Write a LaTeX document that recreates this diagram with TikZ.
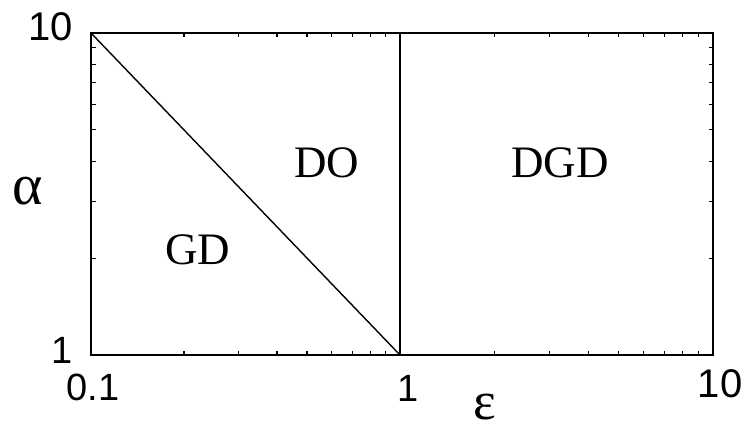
\documentclass[tikz,border=0pt]{standalone}
\usepackage{fontspec}
\setmainfont{Liberation Serif}
\newfontfamily\numfont{Liberation Sans}
\begin{document}
\begin{tikzpicture}[x=1pt,y=1pt,
  frame/.style={line width=2pt, line join=miter},
  divider/.style={line width=1.4pt},
  tickmark/.style={line width=1.1pt},
  ticklabel/.style={inner sep=0pt, font=\numfont\fontsize{38}{38}\selectfont},
  bigticklabel/.style={inner sep=0pt, font=\numfont\fontsize{40}{40}\selectfont},
  region/.style={inner sep=0pt, font=\fontsize{45}{45}\selectfont},
  axislabel/.style={inner sep=0pt, font=\fontsize{58}{58}\selectfont},
  epslabel/.style={inner sep=0pt, font=\fontsize{54}{54}\selectfont}]
\useasboundingbox (0,0) rectangle (747,432);
% plot frame corners
\coordinate (bl) at (91,77);
\coordinate (tl) at (91,399);
\coordinate (tr) at (713,399);
\coordinate (br) at (713,77);
\coordinate (mt) at (400,399);
\coordinate (mb) at (400,77);
\draw[frame] (bl) -- (tl) -- (tr) -- (br) -- cycle;
\draw[divider] (mt) -- (mb);
\draw[divider] (tl) -- (mb);
% x ticks (log), two decades; y ticks (log), one decade
\foreach \k in {2,...,9}{
  \pgfmathsetmacro{\xa}{91+309*log10(\k)}
  \pgfmathsetmacro{\xb}{400+313*log10(\k)}
  \draw[tickmark] (\xa,77) -- ++(0,4.5);
  \draw[tickmark] (\xa,399) -- ++(0,-4.5);
  \draw[tickmark] (\xb,77) -- ++(0,4.5);
  \draw[tickmark] (\xb,399) -- ++(0,-4.5);
  \pgfmathsetmacro{\ya}{77+322*log10(\k)}
  \draw[tickmark] (91,\ya) -- ++(4.5,0);
  \draw[tickmark] (713,\ya) -- ++(-4.5,0);
}
% tick labels
\node[bigticklabel] (y10) at (51,405) {10};
\node[ticklabel] (y1) at (62,82) {1};
\node[ticklabel] (x01) at (93,44.5) {0.1};
\node[ticklabel] (x1) at (408,44) {1};
\node[bigticklabel] (x10) at (720,48) {10};
% axis labels
\node[axislabel] (alpha) at (28,241) {α};
\node[epslabel] (eps) at (485,25) {ε};
% regions
\node[region] (gd) at (198,182) {GD};
\node[region] (do) at (327,269) {DO};
\node[region] (dgd) at (560,269) {DGD};
\end{tikzpicture}
\end{document}
